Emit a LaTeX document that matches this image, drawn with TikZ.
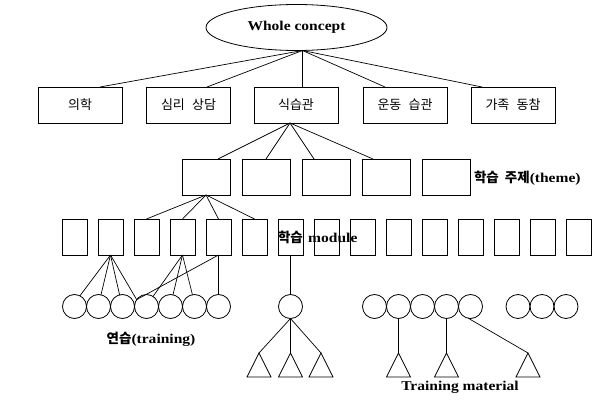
\documentclass[tikz,border=0pt]{standalone}
\usepackage{fontspec}
\setmainfont[FakeStretch=1.15]{Liberation Serif}
\newfontfamily\kr{Noto Sans CJK KR}
\usetikzlibrary{shapes.geometric}
\begin{document}
\begin{tikzpicture}[x=1pt,y=-1pt,
  every node/.style={inner sep=0pt,outer sep=0pt},
  ln/.style={line width=0.7pt},
  topbox/.style={draw,line width=0.9pt,minimum width=84pt,minimum height=36pt,font=\kr\fontsize{13}{15}\selectfont},
  themebox/.style={draw,line width=0.9pt,minimum width=48pt,minimum height=36pt},
  modbox/.style={draw,line width=0.9pt,minimum width=25pt,minimum height=36pt},
  circ/.style={draw,circle,line width=0.8pt,minimum size=24pt},
  tri/.style={draw,isosceles triangle,isosceles triangle stretches,shape border rotate=90,
     minimum width=24pt,minimum height=24pt,line width=0.8pt,anchor=apex},
  lbl/.style={font=\bfseries\fontsize{13.5}{15}\selectfont}
]
\useasboundingbox (0,0) rectangle (614,404);
% top
\node[draw,ellipse,line width=0.8pt,minimum width=181pt,minimum height=46pt,font=\bfseries\fontsize{13.5}{15}\selectfont] (whole) at (296.5,27.5) {Whole concept};
\coordinate (wb) at (302.5,50.5);
\node[topbox] (t1) at (80,105) {의학};
\node[topbox] (t2) at (188.5,105) {심리\hspace{0.55em}상담};
\node[topbox] (t3) at (296,105) {식습관};
\node[topbox] (t4) at (405,105) {운동\hspace{0.55em}습관};
\node[topbox] (t5) at (513,105) {가족\hspace{0.55em}동참};
\draw[ln] (wb) -- ([xshift=20pt]t1.north);
\draw[ln] (wb) -- ([xshift=18.5pt]t2.north);
\draw[ln] (wb) -- ([xshift=6.5pt]t3.north);
\draw[ln] (wb) -- ([xshift=-20pt]t4.north);
\draw[ln] (wb) -- ([xshift=-31pt]t5.north);
% themes
\foreach \i/\x in {1/206,2/266,3/326,4/386,5/446}
  \node[themebox] (th\i) at (\x,177) {};
\node[lbl,anchor=west] (thlbl) at (474,178) {{\kr 학습\hspace{0.45em}주제}(theme)};
\draw[ln] ([xshift=-6pt]t3.south) -- ([xshift=12pt]th1.north);
\draw[ln] ([xshift=-6pt]t3.south) -- (th2.north);
\draw[ln] ([xshift=-6pt]t3.south) -- ([xshift=-12pt]th3.north);
\draw[ln] ([xshift=-6pt]t3.south) -- ([xshift=-13pt]th4.north);
% modules
\foreach \k in {0,...,14}
  \node[modbox] (m\k) at ({74.5+36*\k},237) {};
\node[lbl,anchor=west] (mlbl) at (278,237) {{\kr 학습}\hspace{0.4em}module};
\foreach \k in {2,3,4,5}
  \draw[ln] (th1.south) -- (m\k.north);
% circles
\foreach \k in {0,...,6}
  \node[circ] (c\k) at ({74.5+24*\k},306.5) {};
\node[circ] (cm) at (290.5,306.5) {};
\foreach \k in {0,...,4}
  \node[circ] (r\k) at ({374.5+24*\k},306.5) {};
\node[circ] (s0) at (518,306.5) {};
\node[circ] (s1) at (542,306.5) {};
\node[circ] (s2) at (566,306.5) {};
\draw[ln] (m1.south) -- (c0.63);
\draw[ln] (m1.south) -- (c1.78);
\draw[ln] (m1.south) -- (c2.104);
\draw[ln] (m1.south) -- (c3.145);
\draw[ln] (m3.south) -- (c3.57);
\draw[ln] (m3.south) -- (c4.78);
\draw[ln] (m3.south) -- (c5.100);
\draw[ln] (m4.south) -- (c6.north);
\draw[ln] (m4.south) -- (c3.145);
\draw[ln] (m6.south) -- (cm.north);
% triangles
\node[tri] (a0) at (259,353) {};
\node[tri] (a1) at (290.5,353) {};
\node[tri] (a2) at (321,353) {};
\node[tri] (b0) at (398.5,353) {};
\node[tri] (b1) at (446.5,353) {};
\node[tri] (b2) at (528,353) {};
\draw[ln] (cm.south) -- (a0.apex);
\draw[ln] (cm.south) -- (a1.apex);
\draw[ln] (cm.south) -- (a2.apex);
\draw[ln] (r1.south) -- (b0.apex);
\draw[ln] (r3.south) -- (b1.apex);
\draw[ln] (r4.260) -- (b2.apex);
% labels
\node[lbl] (trlbl) at (151,339) {{\kr 연습}(training)};
\node[lbl] (tmlbl) at (460,387) {Training material};
\end{tikzpicture}
\end{document}
